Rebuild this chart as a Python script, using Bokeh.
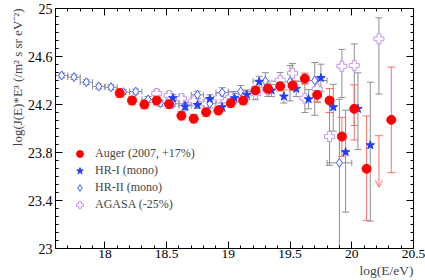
import math
from bokeh.plotting import figure
from bokeh.models import (ColumnDataSource, Arrow, OpenHead, LinearAxis, FixedTicker,
                          Range1d, Legend, LegendItem, Title, CustomJSTickFormatter)
from bokeh.embed import file_html
from bokeh.resources import INLINE

FONT = "Liberation Serif"

# ---------------- data ----------------
auger_x = [18.12, 18.22, 18.32, 18.42, 18.52, 18.62, 18.72, 18.82, 18.92, 19.02, 19.12,
           19.22, 19.32, 19.42, 19.52, 19.62, 19.72, 19.82, 19.92, 20.02, 20.12, 20.32]
auger_y = [24.295, 24.233, 24.200, 24.233, 24.203, 24.107, 24.082, 24.136, 24.150, 24.212, 24.233,
           24.317, 24.331, 24.353, 24.358, 24.416, 24.280, 24.233, 23.933, 24.164, 23.664, 24.072]
auger_eup = [0.035, 0.035, 0.035, 0.035, 0.035, 0.035, 0.035, 0.035, 0.035, 0.035, 0.035,
             0.035, 0.035, 0.04, 0.04, 0.045, 0.06, 0.10, 0.16, 0.20, 0.44, 0.44]
auger_edn = [0.035, 0.035, 0.035, 0.035, 0.035, 0.035, 0.035, 0.035, 0.035, 0.035, 0.035,
             0.035, 0.035, 0.04, 0.04, 0.045, 0.06, 0.10, 0.165, 0.26, 0.43, 0.44]
auger_ul_x = [20.22]
auger_ul_y = [23.94]
auger_ul_tip = [23.51]

hr1_x = [18.55, 18.65, 18.75, 18.85, 18.95, 19.05, 19.15, 19.25, 19.35, 19.45, 19.55,
         19.65, 19.75, 19.85, 19.95, 20.05, 20.15]
hr1_y = [24.253, 24.183, 24.197, 24.246, 24.178, 24.253, 24.281, 24.390, 24.317, 24.267, 24.331,
         24.244, 24.421, 24.178, 23.803, 24.164, 23.861]
hr1_eup = [0.03, 0.03, 0.03, 0.035, 0.035, 0.04, 0.04, 0.045, 0.05, 0.055, 0.065,
           0.08, 0.115, 0.19, 0.35, 0.30, 0.525]
hr1_edn = [0.03, 0.03, 0.03, 0.035, 0.035, 0.04, 0.04, 0.045, 0.05, 0.055, 0.065,
           0.08, 0.115, 0.20, 0.50, 0.34, 0.633]

hr2_x = [17.65, 17.75, 17.85, 17.95, 18.05, 18.15, 18.25, 18.35, 18.45, 18.55, 18.65,
         18.75, 18.85, 18.95, 19.1, 19.3, 19.5, 19.7, 19.9]
hr2_y = [24.442, 24.428, 24.386, 24.350, 24.344, 24.303, 24.308, 24.242, 24.211, 24.206, 24.190,
         24.281, 24.206, 24.300, 24.308, 24.395, 24.390, 24.400, 23.714]
hr2_eup = [0.02, 0.02, 0.02, 0.02, 0.02, 0.02, 0.02, 0.025, 0.025, 0.025, 0.03,
           0.03, 0.035, 0.04, 0.05, 0.07, 0.135, 0.15, 0.53]
hr2_edn = [0.02, 0.02, 0.02, 0.02, 0.02, 0.02, 0.02, 0.025, 0.025, 0.025, 0.03,
           0.03, 0.035, 0.04, 0.05, 0.08, 0.16, 0.29, 1.7]
hr2_xerr = [0.05, 0.05, 0.05, 0.05, 0.05, 0.05, 0.05, 0.05, 0.05, 0.05, 0.05,
            0.05, 0.05, 0.05, 0.1, 0.1, 0.1, 0.1, 0.1]

ag_x = [18.42, 18.52, 18.62, 18.72, 18.82, 18.92, 19.02, 19.12, 19.22, 19.32, 19.42,
        19.52, 19.62, 19.72, 19.82, 19.92, 20.02, 20.22]
ag_y = [24.292, 24.275, 24.250, 24.230, 24.206, 24.254, 24.262, 24.270, 24.289, 24.322, 24.402,
        24.461, 24.253, 24.331, 23.933, 24.519, 24.525, 24.747]
ag_eup = [0.03, 0.03, 0.03, 0.03, 0.035, 0.035, 0.04, 0.045, 0.05, 0.055, 0.065,
          0.08, 0.12, 0.09, 0.31, 0.14, 0.18, 0.175]
ag_edn = [0.03, 0.03, 0.03, 0.03, 0.035, 0.035, 0.04, 0.045, 0.05, 0.055, 0.065,
          0.08, 0.12, 0.11, 0.24, 0.26, 0.50, 0.46]

x_ticks = [18, 18.5, 19, 19.5, 20, 20.5]
x_tick_labels = ["18", "18.5", "19", "19.5", "20", "20.5"]
y_ticks = [23, 23.4, 23.8, 24.2, 24.6, 25]
y_tick_labels = ["23", "23.4", "23.8", "24.2", "24.6", "25"]

labels = ["Auger (2007, +17%)", "HR-I (mono)", "HR-II (mono)", "AGASA (-25%)"]

# ---------------- styles ----------------
RED = "#ff0000"
RED_BAR = "#ff6e6e"
BLUE = "#1f3dff"
BLUE2 = "#3a5cff"
VIOLET = "#c492f5"
GREY = "#8e8e8e"

p = figure(width=425, height=280, output_backend="svg", toolbar_location=None,
           x_range=Range1d(17.6, 20.5), y_range=Range1d(23, 25),
           min_border_left=55, min_border_right=12, min_border_top=8, min_border_bottom=32)
p.xgrid.visible = False
p.ygrid.visible = False
p.outline_line_color = "black"
p.background_fill_color = "white"

x_minor = [round(17.6 + 0.1 * i, 3) for i in range(30)]
y_minor = [round(23 + 0.4 / 6 * i, 4) for i in range(31)]

def style_axis(ax, ticks, minor, labs=None, size="14px"):
    ax.ticker = FixedTicker(ticks=ticks, minor_ticks=minor)
    ax.major_tick_in = 7
    ax.major_tick_out = 0
    ax.minor_tick_in = 3
    ax.minor_tick_out = 0
    ax.axis_line_color = "black"
    ax.major_tick_line_color = "black"
    ax.minor_tick_line_color = "black"
    ax.major_label_text_font = FONT
    ax.major_label_text_font_size = size
    ax.major_label_text_color = "black"
    if labs is None:
        ax.formatter = CustomJSTickFormatter(code="return ''")
        ax.major_label_standoff = 0
    else:
        ax.major_label_overrides = {(int(t) if float(t).is_integer() else t): l
                                    for t, l in zip(ticks, labs)}

style_axis(p.xaxis[0], x_ticks, x_minor, x_tick_labels, size="13.5px")
p.xaxis[0].major_label_standoff = 1
style_axis(p.yaxis[0], y_ticks, y_minor, y_tick_labels, size="14px")
p.yaxis[0].major_label_standoff = 3

top_ax = LinearAxis()
style_axis(top_ax, x_ticks, x_minor)
p.add_layout(top_ax, "above")
right_ax = LinearAxis()
style_axis(right_ax, y_ticks, y_minor)
p.add_layout(right_ax, "right")

p.add_layout(Title(text="log(E/eV)", align="right", text_font=FONT, text_font_size="13.5px",
                   text_font_style="normal", standoff=0, offset=0), "below")
p.add_layout(Title(text="log(J(E)*E\u00b3 (/m\u00b2 s sr eV\u207b\u00b2)", align="right",
                   text_font=FONT, text_font_size="13px", text_font_style="normal",
                   standoff=0, offset=0), "left")


def errbars(x, y, eup, edn, color, cap=7):
    lo = [a - e for a, e in zip(y, edn)]
    hi = [a + e for a, e in zip(y, eup)]
    p.segment(x0=x, y0=lo, x1=x, y1=hi, line_color=color, line_width=1)
    p.scatter(x=list(x) + list(x), y=lo + hi, marker="dash", size=cap,
              line_color=color, line_width=1)


def xbars(x, y, xerr, color, cap=6):
    lo = [a - e for a, e in zip(x, xerr)]
    hi = [a + e for a, e in zip(x, xerr)]
    p.segment(x0=lo, y0=y, x1=hi, y1=y, line_color=color, line_width=1)
    p.scatter(x=lo + hi, y=list(y) + list(y), marker="dash", angle=math.pi / 2,
              size=cap, line_color=color, line_width=1)


# error bars
xbars(hr2_x, hr2_y, hr2_xerr, GREY)
errbars(hr2_x, hr2_y, hr2_eup, hr2_edn, GREY)
errbars(ag_x, ag_y, ag_eup, ag_edn, GREY)
errbars(hr1_x, hr1_y, hr1_eup, hr1_edn, GREY)
errbars(auger_x, auger_y, auger_eup, auger_edn, RED_BAR, cap=8)

# upper limit
ul_src = ColumnDataSource(dict(x=auger_ul_x, y=auger_ul_y, tip=auger_ul_tip))
p.add_layout(Arrow(source=ul_src, x_start="x", y_start="y", x_end="x", y_end="tip",
                   line_color=RED_BAR, line_width=1,
                   end=OpenHead(size=7, line_color=RED_BAR, line_width=1)))
p.scatter(x=auger_ul_x, y=auger_ul_y, marker="dash", size=8, line_color=RED_BAR)

# markers
r_ag = p.scatter(x=ag_x, y=ag_y, marker="plus", size=10, fill_color="white",
                 line_color=VIOLET, line_width=1)
r_hr2 = p.scatter(x=hr2_x, y=hr2_y, marker="diamond", size=9, fill_color="white",
                  line_color=BLUE2, line_width=1)
r_hr1 = p.scatter(x=hr1_x, y=hr1_y, marker="star", size=9, fill_color=BLUE,
                  line_color=BLUE, line_width=1)
r_au = p.scatter(x=auger_x, y=auger_y, marker="circle", size=9, fill_color=RED,
                 line_color=RED, line_width=1)

legend = Legend(items=[LegendItem(label=labels[0], renderers=[r_au]),
                       LegendItem(label=labels[1], renderers=[r_hr1]),
                       LegendItem(label=labels[2], renderers=[r_hr2]),
                       LegendItem(label=labels[3], renderers=[r_ag])],
                location=(16, 35), glyph_width=17, glyph_height=17, label_height=17,
                spacing=0, padding=0, margin=0, label_standoff=7,
                border_line_color=None, background_fill_alpha=0,
                label_text_font=FONT, label_text_font_size="12px")
p.add_layout(legend)

open("out.html", "w").write(file_html(p, INLINE))
